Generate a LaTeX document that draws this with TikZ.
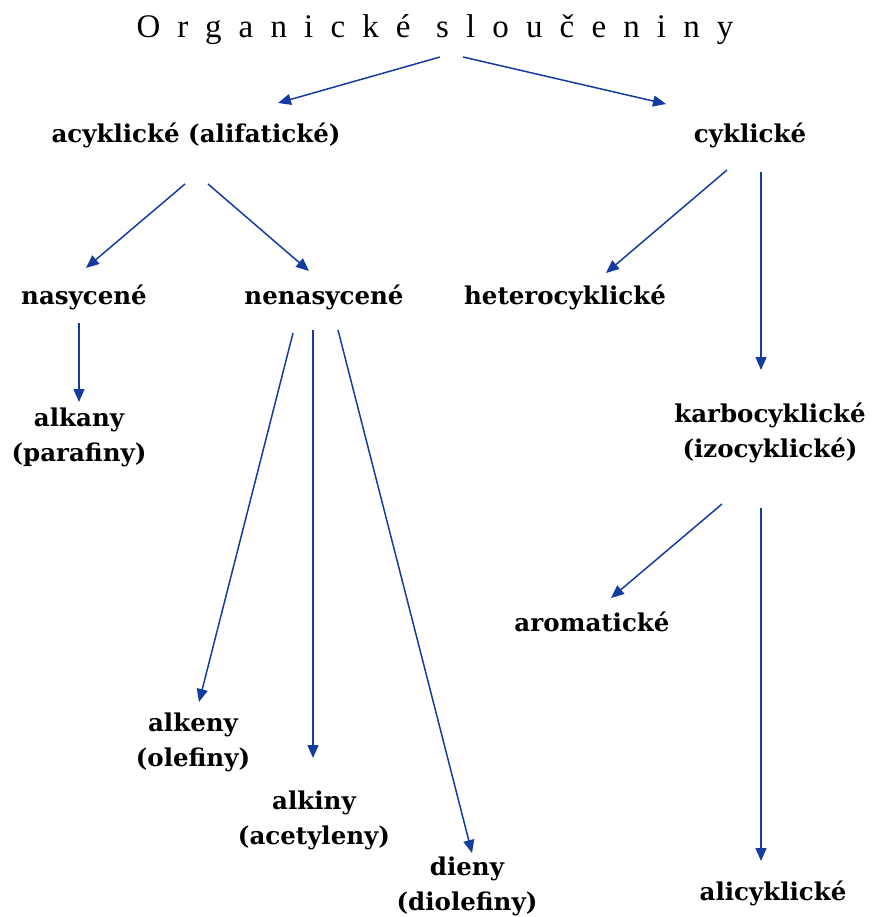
\documentclass[tikz,border=0pt]{standalone}
\usepackage{fontspec}
\setmainfont{DejaVu Serif}
\newfontfamily\titlefont[LetterSpace=52]{Liberation Serif}
\usepackage{tikz}
\usetikzlibrary{arrows.meta}
\definecolor{arrowblue}{RGB}{20,60,160}
\tikzset{
  classnode/.style={inner sep=0pt,align=center,font=\fontsize{24.5}{35}\selectfont\bfseries},
  titlenode/.style={inner sep=0pt,font=\fontsize{33}{36}\selectfont\titlefont},
  arr/.style={-{Triangle[length=13pt,width=11pt]},line width=1.5pt,color=arrowblue}
}
\begin{document}
\begin{tikzpicture}[x=1pt,y=-1pt]
  \useasboundingbox (0,0) rectangle (873,917);
  % nodes
  \node[titlenode] (title) at (435,30) {Organické sloučeniny};
  \node[classnode] (acyk) at (196,135) {acyklické (alifatické)};
  \node[classnode] (cyk) at (750,135) {cyklické};
  \node[classnode] (nasy) at (84,297) {nasycené};
  \node[classnode] (nenasy) at (324,297) {nenasycené};
  \node[classnode] (hetero) at (565,297) {heterocyklické};
  \node[classnode] (alkany) at (79,437) {alkany\\(parafiny)};
  \node[classnode] (karbo) at (770,433) {karbocyklické\\(izocyklické)};
  \node[classnode] (arom) at (592,622) {aromatické};
  \node[classnode] (alkeny) at (193,742) {alkeny\\(olefiny)};
  \node[classnode] (alkiny) at (314,820) {alkiny\\(acetyleny)};
  \node[classnode] (dieny) at (467,886) {dieny\\(diolefiny)};
  \node[classnode] (alicyk) at (773,893) {alicyklické};
  % arrows
  \draw[arr] ([shift={(5,27)}]title.center) -- ([shift={(82,-32)}]acyk.center);
  \draw[arr] ([shift={(28,27)}]title.center) -- ([shift={(-84,-31)}]cyk.center);
  \draw[arr] ([shift={(-11,49)}]acyk.center) -- ([shift={(2,-29)}]nasy.center);
  \draw[arr] ([shift={(12,49)}]acyk.center) -- ([shift={(-15,-26)}]nenasy.center);
  \draw[arr] ([shift={(-23,35)}]cyk.center) -- ([shift={(41,-24)}]hetero.center);
  \draw[arr] ([shift={(11,37)}]cyk.center) -- ([shift={(-9,-63)}]karbo.center);
  \draw[arr] ([shift={(-5,26)}]nasy.center) -- ([shift={(0,-35)}]alkany.center);
  \draw[arr] ([shift={(-31,36)}]nenasy.center) -- ([shift={(6,-40)}]alkeny.center);
  \draw[arr] ([shift={(-11,33)}]nenasy.center) -- ([shift={(-1,-62)}]alkiny.center);
  \draw[arr] ([shift={(14,33)}]nenasy.center) -- ([shift={(5,-33)}]dieny.center);
  \draw[arr] ([shift={(-48,71)}]karbo.center) -- ([shift={(19,-24)}]arom.center);
  \draw[arr] ([shift={(-9,75)}]karbo.center) -- ([shift={(-12,-32)}]alicyk.center);
\end{tikzpicture}
\end{document}
